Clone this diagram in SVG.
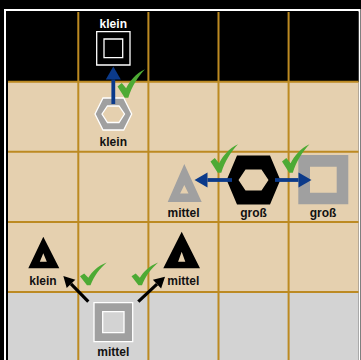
<svg xmlns="http://www.w3.org/2000/svg" width="361" height="360" viewBox="0 0 361 360">
<style>
.lbl{font-family:"Liberation Sans",Arial,sans-serif;font-weight:bold;font-size:12px;text-anchor:middle;fill:#111}
.lblw{fill:#fff}
.grid line{stroke:#BC8A22;stroke-width:2}
.gray{fill:#A0A0A0;fill-rule:evenodd}
.blk{fill:#000;fill-rule:evenodd}
.wo{stroke:#fff;stroke-width:1.3}
.blue{stroke:#0B3A8A;stroke-width:3.8;fill:none}
.dark{stroke:#000;stroke-width:3.2;fill:none}
.chk{fill:#4DAA34}
</style>
<defs>
<marker id="hb" markerUnits="userSpaceOnUse" markerWidth="16" markerHeight="16" refX="0" refY="0" orient="auto" overflow="visible"><path d="M0,-7.5 L13,0 L0,7.5 Z" fill="#0B3A8A"/></marker>
<marker id="hk" markerUnits="userSpaceOnUse" markerWidth="14" markerHeight="14" refX="0" refY="0" orient="auto" overflow="visible"><path d="M0,-6 L11,0 L0,6 Z" fill="#000"/></marker>
<path id="ck" d="M0,17.2 L7.2,28.5 L10.8,28.5 C14.5,17 20,8 27.5,0 C18,4.5 12.5,11.5 8.6,19 L4.3,13.8 Z"/>
</defs>
<rect width="361" height="360" fill="#000"/>
<rect x="5" y="10" width="354.5" height="360" fill="none" stroke="#fff" stroke-width="2"/>
<rect x="8" y="12" width="350.5" height="70" fill="#000"/>
<rect x="8" y="82" width="350.5" height="210" fill="#E5D0AF"/>
<rect x="8" y="292" width="350.5" height="70" fill="#D3D3D3"/>
<g class="grid">
<line x1="8" y1="81.7" x2="358.5" y2="81.7"/>
<line x1="8" y1="151.8" x2="358.5" y2="151.8"/>
<line x1="8" y1="221.9" x2="358.5" y2="221.9"/>
<line x1="8" y1="292" x2="358.5" y2="292"/>
<line x1="78.3" y1="12" x2="78.3" y2="360"/>
<line x1="148.4" y1="12" x2="148.4" y2="360"/>
<line x1="218.5" y1="12" x2="218.5" y2="360"/>
<line x1="288.6" y1="12" x2="288.6" y2="360"/>
</g>
<g id="node-square-klein">
<path class="blk wo" d="M96.7,31.7h33.3v33.3h-33.3z M104,39h18.7v18.7h-18.7z"/>
<text class="lbl lblw" x="113.3" y="28.3">klein</text>
</g>
<g id="node-hexagon-klein">
<path class="gray wo" d="M95,114 L103,98 L123.7,98 L131.7,114 L123.7,130 L103,130 Z M102,114 L107.5,106 L119,106 L124.5,114 L119,122.5 L107.5,122.5 Z"/>
<text class="lbl" x="113.3" y="146">klein</text>
</g>
<g id="node-triangle-mittel-gray">
<path class="gray" d="M184.3,164 L201.7,202 L167.7,202 Z M184.3,185 L188.5,193.5 L180.1,193.5 Z"/>
<text class="lbl" x="183.5" y="216.7">mittel</text>
</g>
<g id="node-hexagon-gross">
<path class="blk" d="M226.7,180 L237,155.5 L270,155.5 L280.3,180 L270,204.5 L237,204.5 Z M238.5,180 L245.5,169.5 L261.5,169.5 L268.5,180 L261.5,190.5 L245.5,190.5 Z"/>
<text class="lbl" x="253.5" y="216.7">groß</text>
</g>
<g id="node-square-gross">
<path class="gray" d="M298.3,155h50v49.3h-50z M310,166.7h26.7v26h-26.7z"/>
<text class="lbl" x="323" y="216.7">groß</text>
</g>
<g id="node-triangle-klein">
<path class="blk" d="M43.3,236.7 L59.3,268.3 L28.3,268.3 Z M43.3,253.3 L46.8,261.7 L39.8,261.7 Z"/>
<text class="lbl" x="43" y="285">klein</text>
</g>
<g id="node-triangle-mittel">
<path class="blk" d="M181.7,231.7 L200,268.3 L163.3,268.3 Z M181.7,251.7 L185.3,261.7 L178.1,261.7 Z"/>
<text class="lbl" x="183.3" y="285">mittel</text>
</g>
<g id="node-square-mittel">
<path class="gray wo" d="M94,302.7h38.7v39h-38.7z M102.7,311.7h21.3v21h-21.3z"/>
<text class="lbl" x="113.3" y="356">mittel</text>
</g>
<g id="connectors">
<line class="blue" x1="113.3" y1="104" x2="113.3" y2="79.5" marker-end="url(#hb)"/>
<line class="blue" x1="232" y1="180" x2="207.5" y2="180" marker-end="url(#hb)"/>
<line class="blue" x1="275" y1="180" x2="298.5" y2="180" marker-end="url(#hb)"/>
<line class="dark" x1="88.3" y1="301.7" x2="71" y2="283.9" marker-end="url(#hk)"/>
<line class="dark" x1="138.3" y1="301.7" x2="157" y2="284.2" marker-end="url(#hk)"/>
<use href="#ck" class="chk" transform="translate(117.5,69.3)"/>
<use href="#ck" class="chk" transform="translate(210.5,144.3)"/>
<use href="#ck" class="chk" transform="translate(282,144.3)"/>
<use href="#ck" class="chk" transform="translate(80,262.5) scale(0.97,0.8)"/>
<use href="#ck" class="chk" transform="translate(131.5,262.5) scale(0.97,0.8)"/>
</g>
</svg>
